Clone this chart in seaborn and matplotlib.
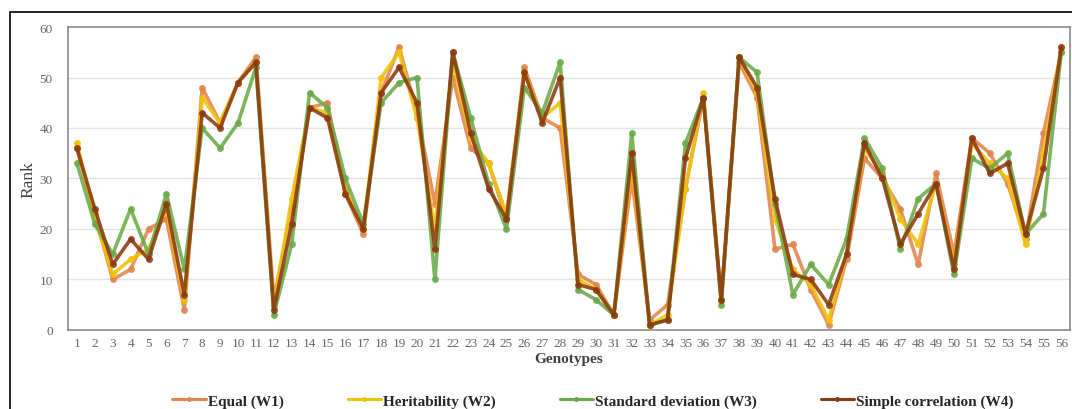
import matplotlib
matplotlib.use("Agg")
import matplotlib.pyplot as plt
from matplotlib.lines import Line2D
import seaborn as sns
import pandas as pd

genotypes = list(range(1, 57))

equal_w1 = [36, 23, 10, 12, 20, 22, 4, 48, 41, 49, 54, 6, 24, 44, 45, 27, 19, 47, 56, 43,
            25, 50, 36, 33, 22, 52, 42, 40, 11, 9, 3, 30, 2, 5, 28, 46, 6, 53, 46, 16,
            17, 8, 1, 14, 34, 30, 24, 13, 31, 15, 38, 35, 29, 18, 39, 55]
heritability_w2 = [37, 22, 11, 14, 16, 24, 6, 46, 41, 49, 53, 5, 26, 44, 43, 28, 20, 50, 55, 42,
                   20, 53, 38, 33, 23, 51, 42, 45, 10, 8, 3, 33, 1, 3, 28, 47, 6, 54, 47, 22,
                   12, 9, 2, 15, 36, 31, 22, 17, 29, 13, 37, 33, 30, 17, 35, 56]
std_dev_w3 = [33, 21, 15, 24, 15, 27, 12, 40, 36, 41, 52, 3, 17, 47, 44, 30, 21, 45, 49, 50,
              10, 55, 42, 29, 20, 48, 43, 53, 8, 6, 3, 39, 1, 2, 37, 46, 5, 54, 51, 25,
              7, 13, 9, 18, 38, 32, 16, 26, 29, 11, 34, 32, 35, 19, 23, 55]
simple_corr_w4 = [36, 24, 13, 18, 14, 25, 7, 43, 40, 49, 53, 4, 21, 44, 42, 27, 20, 47, 52, 45,
                  16, 55, 39, 28, 22, 51, 41, 50, 9, 8, 3, 35, 1, 2, 34, 46, 6, 54, 48, 26,
                  11, 10, 5, 15, 37, 30, 17, 23, 29, 12, 38, 31, 33, 19, 32, 56]

series_names = ["Equal (W1)", "Heritability (W2)", "Standard deviation (W3)", "Simple correlation (W4)"]
series_colors = ["#E2844C", "#F0C20A", "#6BAA48", "#8C3A10"]

frames = []
for name, vals in zip(series_names, [equal_w1, heritability_w2, std_dev_w3, simple_corr_w4]):
    frames.append(pd.DataFrame({"Genotype": genotypes, "Rank": vals, "Method": name}))
df = pd.concat(frames, ignore_index=True)

sns.set_style("white")
plt.rcParams["font.family"] = ["Liberation Serif", "DejaVu Serif"]

fig = plt.figure(figsize=(10.72, 4.10), dpi=100)
ax = fig.add_axes([0.0634, 0.1927, 0.935, 0.739])

for name, color in zip(series_names, series_colors):
    sub = df[df["Method"] == name]
    sns.lineplot(data=sub, x="Genotype", y="Rank", ax=ax, color=color, linewidth=2.6,
                 marker="o", markersize=5, markeredgewidth=0, alpha=0.88, label=name,
                 legend=False)

ax.set_xlim(0.5, 56.5)
ax.set_ylim(0, 60)
ax.set_xticks(genotypes)
ax.set_yticks(range(0, 61, 10))
ax.tick_params(axis="both", length=0, colors="#666666", labelsize=9.5)
ax.tick_params(axis="y", pad=11)
ax.tick_params(axis="x", pad=5)
for lbl in ax.get_xticklabels() + ax.get_yticklabels():
    lbl.set_color("#666666")

for y in range(10, 60, 10):
    ax.axhline(y, color="#e3e3e3", linewidth=1.0, zorder=0)

for side in ["top", "bottom", "left", "right"]:
    ax.spines[side].set_color("#8a8a8a")
    ax.spines[side].set_linewidth(1.2)

ax.set_xlabel("Genotypes", fontsize=11, fontweight="bold", color="#404040", labelpad=2)
ax.set_ylabel("Rank", fontsize=12.5, color="#404040", labelpad=2)

handles = [Line2D([0], [0], color=c, linewidth=2.2, marker="o", markersize=3.5, markeredgewidth=0)
           for c in series_colors]
fig.legend(handles, series_names, loc="center", bbox_to_anchor=(0.553, 0.02), ncol=4,
           frameon=False, handlelength=2.2, handletextpad=0.1, columnspacing=4.2,
           prop={"family": "Liberation Serif", "weight": "bold", "size": 11})

# outer frame (left and top edges visible)
fig.add_artist(Line2D([0.0093, 0.0093], [0.0, 0.968], color="black", linewidth=1.2,
                      transform=fig.transFigure))
fig.add_artist(Line2D([0.0093, 1.0], [0.968, 0.968], color="black", linewidth=1.2,
                      transform=fig.transFigure))

fig.savefig("out.png", dpi=100)
